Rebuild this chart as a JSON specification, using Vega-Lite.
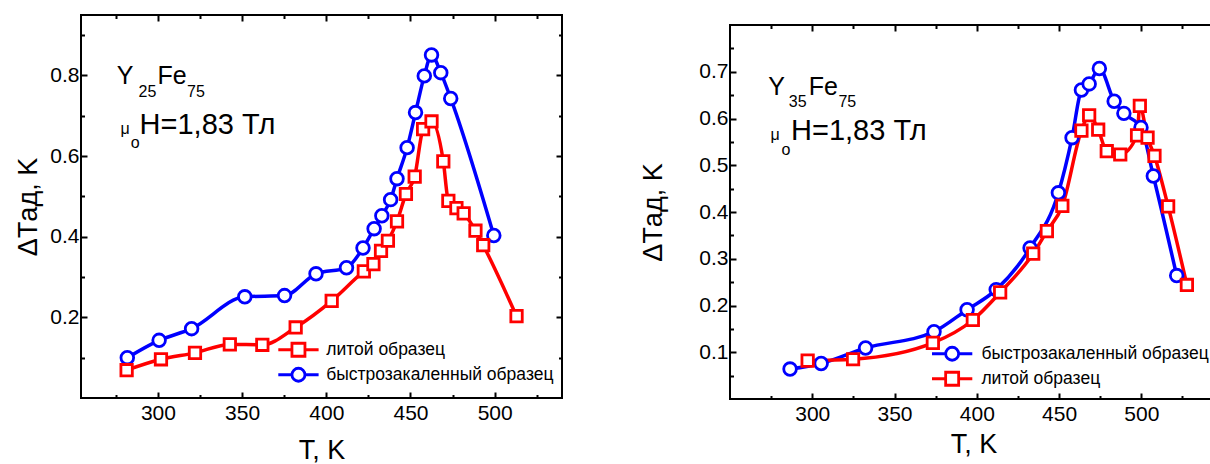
{
  "$schema": "https://vega.github.io/schema/vega-lite/v6.json",
  "padding": {"left": 13, "top": 13, "right": 0, "bottom": 0},
  "background": "white",
  "config": {
    "view": {"stroke": "black", "strokeWidth": 2},
    "font": "Liberation Sans",
    "axis": {"domain": false, "grid": false, "tickColor": "black", "tickWidth": 2, "labelFont": "Liberation Sans", "labelFontSize": 21, "labelColor": "black", "titleFont": "Liberation Sans", "titleFontSize": 27, "titleFontWeight": "normal", "titleColor": "black", "labelFlush": false, "labelOverlap": false},
    "legend": {"labelLimit": 400}
  },
  "resolve": {"scale": {"color": "independent", "shape": "independent", "size": "independent"}, "legend": {"color": "independent"}},
  "spacing": 74,
  "hconcat": [
    {
      "width": 481, "height": 383,
      "resolve": {"axis": {"x": "independent", "y": "independent"}},
      "layer": [
        {
          "data": {"name": "left"},
          "mark": {"type": "line", "interpolate": "monotone", "strokeWidth": 3.5},
          "encoding": {
            "x": {"field": "T", "type": "quantitative", "scale": {"domain": [254.3, 540], "nice": false, "zero": false},
                  "axis": {"orient": "bottom", "title": "T, K", "values": [275,300,325,350,375,400,425,450,475,500,525], "labelExpr": "datum.value % 50 === 0 ? datum.label : ''", "tickSize": {"condition": {"test": "datum.value % 50 === 0", "value": -6}, "value": -3.5}, "labelPadding": 10, "titlePadding": 12}},
            "y": {"field": "v", "type": "quantitative", "scale": {"domain": [0, 0.95], "nice": false},
                  "axis": {"orient": "left", "title": "ΔTад, K", "values": [0.1,0.2,0.3,0.4,0.5,0.6,0.7,0.8,0.9], "format": ".1f", "labelExpr": "round(datum.value*10) % 2 === 0 ? datum.label : ''", "tickSize": {"condition": {"test": "round(datum.value*10) % 2 === 0", "value": -6}, "value": -3.5}, "labelPadding": 8, "titlePadding": 7}},
            "color": {"field": "s", "type": "nominal", "scale": {"domain": ["литой образец", "быстрозакаленный образец"], "range": ["#ff0000", "#0000ff"]},
                      "legend": {"orient": "none", "legendX": 208.7, "legendY": 326, "title": null, "labelFont": "Liberation Sans", "labelFontSize": 17.5, "labelColor": "black", "labelLimit": 400, "symbolSize": 169, "symbolStrokeWidth": 2.8, "labelOffset": 19, "rowPadding": 0,
                                 "encode": {"symbols": {"update": {"shape": {"signal": "datum.value === 'литой образец' ? 'M-3.1,0H-1M1,0H3.1M-1,-1H1V1H-1Z' : 'M-3.1,0H-1M1,0H3.1M1,0A1,1,0,1,1,-1,0A1,1,0,1,1,1,0'"}, "fill": {"value": "white"}, "fillOpacity": {"value": 1}, "strokeWidth": {"value": 2.8}}}}}}
          }
        },
        {
          "data": {"name": "left"},
          "mark": {"type": "point", "filled": false, "fill": "white", "fillOpacity": 1, "strokeWidth": 2.8, "opacity": 1},
          "encoding": {
            "x": {"field": "T", "type": "quantitative", "axis": {"orient": "top", "labels": false, "title": null, "values": [275,300,325,350,375,400,425,450,475,500,525], "tickSize": {"condition": {"test": "datum.value % 50 === 0", "value": -6}, "value": -3.5}}},
            "y": {"field": "v", "type": "quantitative", "axis": {"orient": "right", "labels": false, "title": null, "values": [0.1,0.2,0.3,0.4,0.5,0.6,0.7,0.8,0.9], "tickSize": {"condition": {"test": "round(datum.value*10) % 2 === 0", "value": -6}, "value": -3.5}}},
            "color": {"field": "s", "type": "nominal"},
            "shape": {"field": "s", "type": "nominal", "scale": {"domain": ["быстрозакаленный образец", "литой образец"], "range": ["circle", "square"]}, "legend": null},
            "size": {"field": "s", "type": "nominal", "scale": {"domain": ["быстрозакаленный образец", "литой образец"], "range": [160, 130]}, "legend": null}
          }
        },
        {
          "data": {"values": [
            {"T": 275.5, "v": 0.778, "t": "Y"},
            {"T": 299.7, "v": 0.778, "t": "Fe"}
          ]},
          "mark": {"type": "text", "align": "left", "baseline": "alphabetic", "fontSize": 25, "font": "Liberation Sans", "color": "black"},
          "encoding": {"x": {"field": "T", "type": "quantitative", "axis": null}, "y": {"field": "v", "type": "quantitative", "axis": null}, "text": {"field": "t"}}
        },
        {
          "data": {"values": [
            {"T": 289.1, "v": 0.654, "t": "H=1,83 Тл"}
          ]},
          "mark": {"type": "text", "align": "left", "baseline": "alphabetic", "fontSize": 29, "font": "Liberation Sans", "color": "black"},
          "encoding": {"x": {"field": "T", "type": "quantitative", "axis": null}, "y": {"field": "v", "type": "quantitative", "axis": null}, "text": {"field": "t"}}
        },
        {
          "data": {"values": [
            {"T": 288.5, "v": 0.747, "t": "25"},
            {"T": 317.3, "v": 0.747, "t": "75"},
            {"T": 277.8, "v": 0.654, "t": "μ"},
            {"T": 283.8, "v": 0.621, "t": "o"}
          ]},
          "mark": {"type": "text", "align": "left", "baseline": "alphabetic", "fontSize": 16, "font": "Liberation Sans", "color": "black"},
          "encoding": {"x": {"field": "T", "type": "quantitative", "axis": null}, "y": {"field": "v", "type": "quantitative", "axis": null}, "text": {"field": "t"}}
        }
      ]
    },
    {
      "spacing": 0,
      "vconcat": [
        {
          "width": 20, "height": 8,
          "view": {"stroke": null},
          "data": {"values": []},
          "mark": {"type": "point"},
          "encoding": {}
        },
        {
          "width": 487, "height": 374,
          "resolve": {"axis": {"x": "independent", "y": "independent"}},
          "layer": [
            {
              "data": {"name": "right"},
              "mark": {"type": "line", "interpolate": "monotone", "strokeWidth": 3.5},
              "encoding": {
                "x": {"field": "T", "type": "quantitative", "scale": {"domain": [250, 546], "nice": false, "zero": false},
                      "axis": {"orient": "bottom", "title": "T, K", "values": [275,300,325,350,375,400,425,450,475,500,525], "labelExpr": "datum.value % 50 === 0 ? datum.label : ''", "tickSize": {"condition": {"test": "datum.value % 50 === 0", "value": -6}, "value": -3.5}, "labelPadding": 10, "titlePadding": 5}},
                "y": {"field": "v", "type": "quantitative", "scale": {"domain": [0, 0.8], "nice": false},
                      "axis": {"orient": "left", "title": "ΔTад, K", "values": [0.05,0.1,0.15,0.2,0.25,0.3,0.35,0.4,0.45,0.5,0.55,0.6,0.65,0.7,0.75], "format": ".1f", "labelExpr": "round(datum.value*100) % 10 === 0 ? datum.label : ''", "tickSize": {"condition": {"test": "round(datum.value*100) % 10 === 0", "value": -6}, "value": -3.5}, "labelPadding": 8, "titlePadding": 31}},
                "color": {"field": "s", "type": "nominal", "scale": {"domain": ["быстрозакаленный образец", "литой образец"], "range": ["#0000ff", "#ff0000"]},
                          "legend": {"orient": "none", "legendX": 213.4, "legendY": 330, "title": null, "labelFont": "Liberation Sans", "labelFontSize": 17.5, "labelColor": "black", "labelLimit": 400, "symbolSize": 169, "symbolStrokeWidth": 2.8, "labelOffset": 20.5, "rowPadding": 0,
                                     "encode": {"symbols": {"update": {"shape": {"signal": "datum.value === 'литой образец' ? 'M-3.1,0H-1M1,0H3.1M-1,-1H1V1H-1Z' : 'M-3.1,0H-1M1,0H3.1M1,0A1,1,0,1,1,-1,0A1,1,0,1,1,1,0'"}, "fill": {"value": "white"}, "fillOpacity": {"value": 1}, "strokeWidth": {"value": 2.8}}}}}}
              }
            },
            {
              "data": {"name": "right"},
              "mark": {"type": "point", "filled": false, "fill": "white", "fillOpacity": 1, "strokeWidth": 2.8, "opacity": 1},
              "encoding": {
                "x": {"field": "T", "type": "quantitative", "axis": {"orient": "top", "labels": false, "title": null, "values": [275,300,325,350,375,400,425,450,475,500,525], "tickSize": {"condition": {"test": "datum.value % 50 === 0", "value": -6}, "value": -3.5}}},
                "y": {"field": "v", "type": "quantitative", "axis": {"orient": "right", "labels": false, "title": null, "values": [0.05,0.1,0.15,0.2,0.25,0.3,0.35,0.4,0.45,0.5,0.55,0.6,0.65,0.7,0.75], "tickSize": {"condition": {"test": "round(datum.value*100) % 10 === 0", "value": -6}, "value": -3.5}}},
                "color": {"field": "s", "type": "nominal"},
                "shape": {"field": "s", "type": "nominal", "scale": {"domain": ["литой образец", "быстрозакаленный образец"], "range": ["square", "circle"]}, "legend": null},
                "size": {"field": "s", "type": "nominal", "scale": {"domain": ["литой образец", "быстрозакаленный образец"], "range": [130, 160]}, "legend": null}
              }
            },
            {
              "data": {"values": [
                {"T": 273.2, "v": 0.650, "t": "Y"},
                {"T": 297.9, "v": 0.650, "t": "Fe"}
              ]},
              "mark": {"type": "text", "align": "left", "baseline": "alphabetic", "fontSize": 25, "font": "Liberation Sans", "color": "black"},
              "encoding": {"x": {"field": "T", "type": "quantitative", "axis": null}, "y": {"field": "v", "type": "quantitative", "axis": null}, "text": {"field": "t"}}
            },
            {
              "data": {"values": [
                {"T": 287.1, "v": 0.554, "t": "H=1,83 Тл"}
              ]},
              "mark": {"type": "text", "align": "left", "baseline": "alphabetic", "fontSize": 29, "font": "Liberation Sans", "color": "black"},
              "encoding": {"x": {"field": "T", "type": "quantitative", "axis": null}, "y": {"field": "v", "type": "quantitative", "axis": null}, "text": {"field": "t"}}
            },
            {
              "data": {"values": [
                {"T": 285.7, "v": 0.625, "t": "35"},
                {"T": 315.9, "v": 0.625, "t": "75"},
                {"T": 274.6, "v": 0.554, "t": "μ"},
                {"T": 281.3, "v": 0.522, "t": "o"}
              ]},
              "mark": {"type": "text", "align": "left", "baseline": "alphabetic", "fontSize": 16, "font": "Liberation Sans", "color": "black"},
              "encoding": {"x": {"field": "T", "type": "quantitative", "axis": null}, "y": {"field": "v", "type": "quantitative", "axis": null}, "text": {"field": "t"}}
            }
          ]
        }
      ]
    }
  ],
  "datasets": {
    "left": [
      {"T": 281.8, "v": 0.100, "s": "быстрозакаленный образец"},
      {"T": 300.7, "v": 0.143, "s": "быстрозакаленный образец"},
      {"T": 320.0, "v": 0.172, "s": "быстрозакаленный образец"},
      {"T": 351.6, "v": 0.251, "s": "быстрозакаленный образец"},
      {"T": 375.2, "v": 0.254, "s": "быстрозакаленный образец"},
      {"T": 393.9, "v": 0.308, "s": "быстрозакаленный образец"},
      {"T": 412.0, "v": 0.323, "s": "быстрозакаленный образец"},
      {"T": 421.8, "v": 0.372, "s": "быстрозакаленный образец"},
      {"T": 428.4, "v": 0.420, "s": "быстрозакаленный образец"},
      {"T": 433.0, "v": 0.452, "s": "быстрозакаленный образец"},
      {"T": 438.2, "v": 0.492, "s": "быстрозакаленный образец"},
      {"T": 442.0, "v": 0.544, "s": "быстрозакаленный образец"},
      {"T": 448.0, "v": 0.621, "s": "быстрозакаленный образец"},
      {"T": 453.0, "v": 0.708, "s": "быстрозакаленный образец"},
      {"T": 458.2, "v": 0.799, "s": "быстрозакаленный образец"},
      {"T": 462.5, "v": 0.851, "s": "быстрозакаленный образец"},
      {"T": 468.0, "v": 0.807, "s": "быстрозакаленный образец"},
      {"T": 473.9, "v": 0.743, "s": "быстрозакаленный образец"},
      {"T": 499.5, "v": 0.403, "s": "быстрозакаленный образец"},
      {"T": 281.4, "v": 0.069, "s": "литой образец"},
      {"T": 301.8, "v": 0.096, "s": "литой образец"},
      {"T": 322.0, "v": 0.112, "s": "литой образец"},
      {"T": 342.7, "v": 0.133, "s": "литой образец"},
      {"T": 362.0, "v": 0.132, "s": "литой образец"},
      {"T": 381.8, "v": 0.175, "s": "литой образец"},
      {"T": 403.2, "v": 0.241, "s": "литой образец"},
      {"T": 422.3, "v": 0.314, "s": "литой образец"},
      {"T": 428.0, "v": 0.332, "s": "литой образец"},
      {"T": 432.5, "v": 0.365, "s": "литой образец"},
      {"T": 436.6, "v": 0.390, "s": "литой образец"},
      {"T": 442.0, "v": 0.438, "s": "литой образец"},
      {"T": 447.3, "v": 0.506, "s": "литой образец"},
      {"T": 452.5, "v": 0.549, "s": "литой образец"},
      {"T": 457.5, "v": 0.667, "s": "литой образец"},
      {"T": 462.5, "v": 0.686, "s": "литой образец"},
      {"T": 469.5, "v": 0.587, "s": "литой образец"},
      {"T": 472.5, "v": 0.489, "s": "литой образец"},
      {"T": 477.3, "v": 0.471, "s": "литой образец"},
      {"T": 481.6, "v": 0.458, "s": "литой образец"},
      {"T": 488.6, "v": 0.415, "s": "литой образец"},
      {"T": 493.2, "v": 0.379, "s": "литой образец"},
      {"T": 513.0, "v": 0.203, "s": "литой образец"}
    ],
    "right": [
      {"T": 286.5, "v": 0.064, "s": "быстрозакаленный образец"},
      {"T": 305.4, "v": 0.076, "s": "быстрозакаленный образец"},
      {"T": 332.4, "v": 0.109, "s": "быстрозакаленный образец"},
      {"T": 374.0, "v": 0.144, "s": "быстрозакаленный образец"},
      {"T": 394.1, "v": 0.191, "s": "быстрозакаленный образец"},
      {"T": 411.8, "v": 0.234, "s": "быстрозакаленный образец"},
      {"T": 432.4, "v": 0.323, "s": "быстрозакаленный образец"},
      {"T": 449.6, "v": 0.441, "s": "быстрозакаленный образец"},
      {"T": 457.9, "v": 0.559, "s": "быстрозакаленный образец"},
      {"T": 463.6, "v": 0.661, "s": "быстрозакаленный образец"},
      {"T": 468.3, "v": 0.674, "s": "быстрозакаленный образец"},
      {"T": 474.5, "v": 0.707, "s": "быстрозакаленный образец"},
      {"T": 483.5, "v": 0.637, "s": "быстрозакаленный образец"},
      {"T": 489.4, "v": 0.611, "s": "быстрозакаленный образец"},
      {"T": 499.8, "v": 0.581, "s": "быстрозакаленный образец"},
      {"T": 507.3, "v": 0.477, "s": "быстрозакаленный образец"},
      {"T": 521.5, "v": 0.264, "s": "быстрозакаленный образец"},
      {"T": 297.2, "v": 0.082, "s": "литой образец"},
      {"T": 324.8, "v": 0.085, "s": "литой образец"},
      {"T": 373.3, "v": 0.120, "s": "литой образец"},
      {"T": 397.6, "v": 0.169, "s": "литой образец"},
      {"T": 414.2, "v": 0.228, "s": "литой образец"},
      {"T": 434.3, "v": 0.311, "s": "литой образец"},
      {"T": 442.6, "v": 0.359, "s": "литой образец"},
      {"T": 452.0, "v": 0.413, "s": "литой образец"},
      {"T": 463.6, "v": 0.574, "s": "литой образец"},
      {"T": 468.3, "v": 0.607, "s": "литой образец"},
      {"T": 473.8, "v": 0.576, "s": "литой образец"},
      {"T": 479.0, "v": 0.530, "s": "литой образец"},
      {"T": 487.2, "v": 0.523, "s": "литой образец"},
      {"T": 497.4, "v": 0.564, "s": "литой образец"},
      {"T": 499.1, "v": 0.627, "s": "литой образец"},
      {"T": 503.8, "v": 0.559, "s": "литой образец"},
      {"T": 508.0, "v": 0.520, "s": "литой образец"},
      {"T": 516.3, "v": 0.412, "s": "литой образец"},
      {"T": 527.7, "v": 0.244, "s": "литой образец"}
    ]
  }
}
